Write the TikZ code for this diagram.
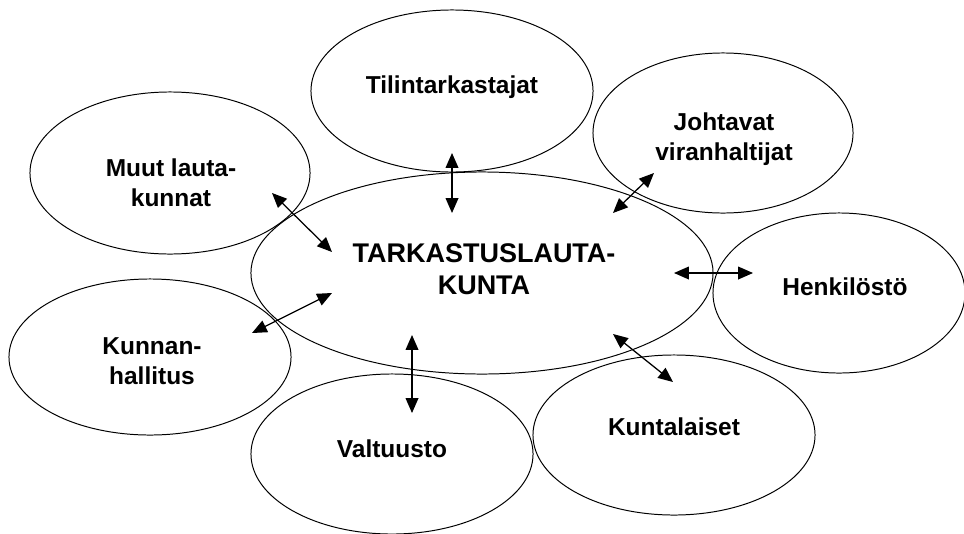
\documentclass[tikz,border=0pt]{standalone}
\usepackage{fontspec}
\setmainfont{Liberation Sans}
\usetikzlibrary{shapes.geometric,arrows.meta}

\tikzset{
  oval/.style={ellipse, draw, line width=0.7pt, inner sep=0pt},
  lbl/.style={align=center, font=\bfseries\fontsize{17.4}{21.3}\selectfont},
  biglbl/.style={align=center, font=\bfseries\fontsize{19.2}{22.5}\selectfont},
  link/.style={>={Triangle[length=10.5pt, width=9pt]}, <->, line width=0.9pt}
}

\begin{document}
\begin{tikzpicture}[x=0.025cm, y=-0.025cm]
    \useasboundingbox (0,0) rectangle (964,533);
    % ellipses
    \node [oval, minimum width=11.55cm, minimum height=5.05cm] (tl) at (482,273) {};
    \node [oval, minimum width=7.05cm, minimum height=4.05cm] (tili) at (452,91) {};
    \node [oval, minimum width=6.5cm, minimum height=4.0cm] (joht) at (723,133) {};
    \node [oval, minimum width=7.0cm, minimum height=4.05cm] (muut) at (170,173) {};
    \node [oval, minimum width=6.3cm, minimum height=4.0cm] (henk) at (839,293) {};
    \node [oval, minimum width=7.05cm, minimum height=3.9cm] (kunn) at (150,357) {};
    \node [oval, minimum width=7.05cm, minimum height=4.0cm] (valt) at (392,454) {};
    \node [oval, minimum width=7.05cm, minimum height=4.0cm] (kunt) at (674,435) {};
    % texts
    \node [biglbl] (ttl) at (484,269) {TARKASTUSLAUTA-\\KUNTA};
    \node [lbl] (ttili) at (452,87) {Tilintarkastajat};
    \node [lbl] (tjoht) at (724,139) {Johtavat\\viranhaltijat};
    \node [lbl] (tmuut) at (171,183) {Muut lauta-\\kunnat};
    \node [lbl] (thenk) at (845,287) {Henkilöstö};
    \node [lbl] (tkunn) at (152,361) {Kunnan-\\hallitus};
    \node [lbl] (tvalt) at (392,449) {Valtuusto};
    \node [lbl] (tkunt) at (674,427) {Kuntalaiset};
    % arrow ends
    \coordinate (a1) at (452,153);
    \coordinate (b1) at (452,213);
    \coordinate (a2) at (654,173);
    \coordinate (b2) at (613,213);
    \coordinate (a3) at (272,193);
    \coordinate (b3) at (332,252);
    \coordinate (a4) at (674,273);
    \coordinate (b4) at (753,273);
    \coordinate (a5) at (332,293);
    \coordinate (b5) at (252,333);
    \coordinate (a6) at (412,335);
    \coordinate (b6) at (412,413);
    \coordinate (a7) at (613,334);
    \coordinate (b7) at (673,382);
    \draw [link] (a1) -- (b1);
    \draw [link] (a2) -- (b2);
    \draw [link] (a3) -- (b3);
    \draw [link] (a4) -- (b4);
    \draw [link] (a5) -- (b5);
    \draw [link] (a6) -- (b6);
    \draw [link] (a7) -- (b7);
\end{tikzpicture}
\end{document}
